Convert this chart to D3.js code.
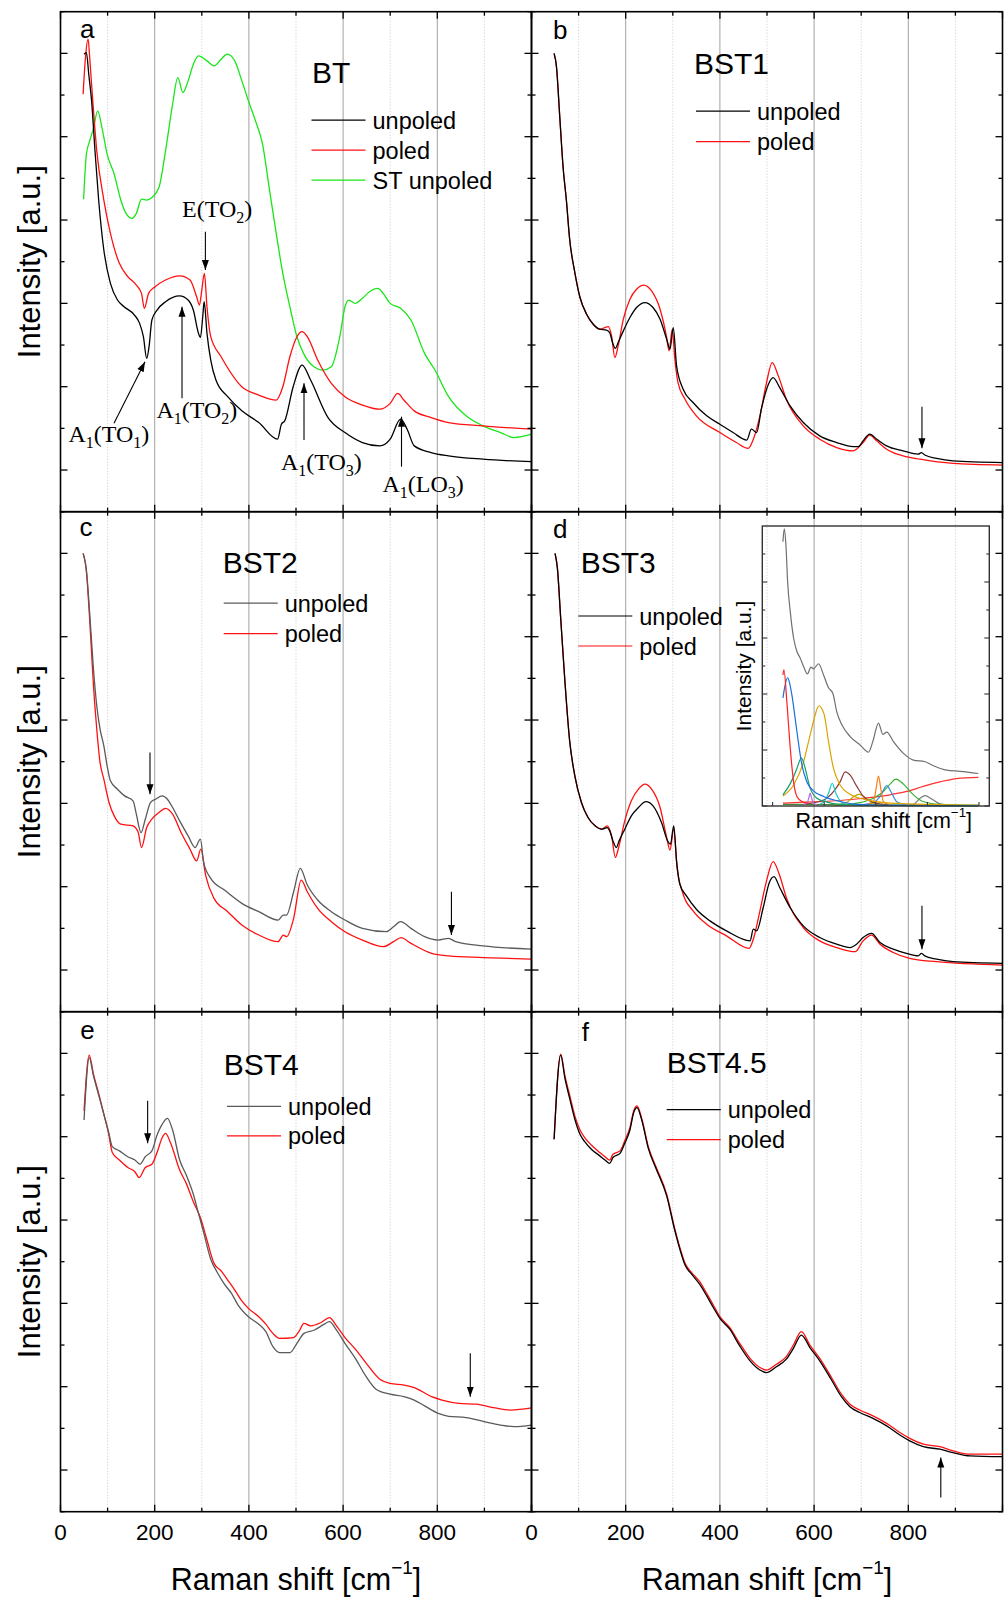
<!DOCTYPE html>
<html>
<head>
<meta charset="utf-8">
<script src="https://cdn.jsdelivr.net/npm/d3@7"></script>
<style>
  body { margin: 0; background: #fff; }
  svg text { font-family: "Liberation Sans", Arial, sans-serif; fill: #000; }
</style>
</head>
<body>
<svg id="chart" width="1005" height="1600"></svg>
<script>
// axis values
var xTickLabels = [0, 200, 400, 600, 800];
var xMajor = [200, 400, 600, 800];
var xMinor = [100, 300, 500, 700, 900];
var yMajor = [0, 1, 2, 3, 4, 5];
var yMinor = [-0.5, 0.5, 1.5, 2.5, 3.5, 4.5, 5.5];

// panel a : BT
var btUnpoled = [[50,4.99],[55,5.01],[60,4.75],[66,4.43],[73,3.85],[81,3.24],[92,2.64],[106,2.24],[121,2.04],[135,1.96],[157,1.86],[168,1.76],[176,1.60],[183,1.34],[188,1.48],[194,1.80],[205,1.92],[223,2.02],[253,2.09],[271,2.04],[282,1.92],[293,1.64],[297,1.59],[302,1.84],[305,2.02],[311,1.64],[319,1.32],[330,1.08],[355,0.88],[385,0.71],[421,0.57],[461,0.37],[469,0.55],[476,0.59],[494,1.00],[513,1.26],[531,1.08],[568,0.63],[604,0.45],[641,0.33],[678,0.29],[700,0.37],[722,0.61],[736,0.49],[751,0.29],[787,0.21],[824,0.17],[897,0.13],[1000,0.10]];
var btPoled = [[48,4.51],[53,4.95],[58.6,5.17],[62,4.95],[66,4.63],[77,3.83],[92,3.24],[106,2.84],[125,2.48],[143,2.32],[161,2.22],[172,2.12],[178,1.94],[187,2.12],[201,2.20],[223,2.28],[253,2.33],[275,2.28],[289,2.08],[295,1.98],[300,2.16],[305.5,2.36],[311,1.96],[319,1.60],[341,1.36],[385,1.00],[421,0.90],[458,0.84],[472,1.00],[487,1.36],[502,1.60],[513,1.66],[524,1.60],[546,1.32],[575,1.04],[604,0.88],[641,0.78],[678,0.73],[700,0.80],[716,0.92],[729,0.84],[751,0.71],[787,0.63],[824,0.57],[897,0.53],[1000,0.49]];
var btStUnpoled = [[49,3.25],[55,3.79],[62,3.95],[70,4.10],[79,4.31],[88,4.11],[99,3.79],[114,3.55],[128,3.24],[139,3.08],[152,3.02],[161,3.08],[172,3.25],[183,3.24],[194,3.27],[209,3.39],[223,3.83],[238,4.39],[249,4.71],[260,4.53],[271,4.67],[282,4.87],[293,4.97],[311,4.91],[326,4.85],[341,4.93],[354,4.99],[370,4.91],[385,4.67],[399,4.43],[414,4.19],[429,3.91],[443,3.39],[458,2.84],[472,2.36],[487,1.96],[502,1.60],[516,1.40],[538,1.24],[557,1.20],[575,1.24],[593,1.60],[604,1.96],[612,2.04],[626,2.00],[641,2.06],[656,2.14],[674,2.18],[685,2.12],[700,2.00],[722,1.94],[744,1.80],[773,1.40],[795,1.20],[824,0.88],[861,0.65],[897,0.53],[934,0.45],[963,0.39],[1000,0.43]];

// panel b : BST1
var bst1Unpoled = [[48,5.0],[53,4.84],[60,4.24],[67,3.64],[74,3.24],[81,2.77],[92,2.37],[103,2.07],[117,1.87],[131,1.75],[145,1.69],[159,1.68],[166,1.65],[172,1.53],[178,1.46],[184,1.53],[195,1.67],[209,1.83],[223,1.95],[241,2.01],[258,1.95],[273,1.81],[287,1.57],[294,1.45],[301,1.71],[308,1.25],[322,0.97],[343,0.81],[372,0.65],[400,0.55],[428,0.45],[457,0.36],[467,0.49],[478,0.45],[488,0.73],[503,1.03],[513,1.11],[527,0.99],[549,0.77],[577,0.57],[612,0.41],[648,0.33],[683,0.28],[694,0.28],[704,0.35],[718,0.43],[733,0.37],[754,0.29],[789,0.23],[821,0.19],[828,0.21],[835,0.18],[860,0.14],[895,0.11],[1000,0.09]];
var bst1Poled = [[48,5.0],[53,4.84],[60,4.24],[67,3.64],[74,3.24],[81,2.77],[92,2.37],[103,2.07],[117,1.87],[131,1.75],[145,1.69],[156,1.71],[163,1.72],[170,1.61],[177,1.35],[184,1.49],[195,1.81],[209,2.05],[223,2.17],[238.5,2.22],[255,2.15],[273,1.93],[287,1.59],[292,1.43],[299,1.69],[304,1.35],[311,1.05],[326,0.85],[350,0.65],[400,0.45],[435,0.33],[460,0.26],[471,0.37],[485,0.65],[499,1.05],[511,1.29],[524,1.13],[541,0.85],[577,0.53],[612,0.37],[648,0.27],[683,0.23],[704,0.33],[718,0.42],[733,0.35],[754,0.25],[789,0.17],[825,0.13],[895,0.08],[1000,0.06]];

// panel c : BST2
var bst2Unpoled = [[48,5.0],[55,4.80],[62,4.28],[70,3.61],[77,3.17],[84,2.89],[92,2.69],[99,2.45],[106,2.27],[121,2.17],[136,2.09],[154,2.03],[161,1.87],[171,1.65],[180,1.81],[191,2.01],[202,2.05],[216,2.09],[227,2.05],[238,1.95],[253,1.79],[271,1.61],[286,1.47],[297,1.57],[304,1.29],[319,1.10],[348,0.96],[385,0.80],[421,0.70],[462,0.60],[473,0.66],[480,0.66],[495,0.94],[509,1.22],[524,1.02],[546,0.84],[575,0.70],[604,0.60],[641,0.50],[692,0.46],[707,0.52],[722,0.58],[744,0.50],[773,0.40],[802,0.36],[824,0.38],[839,0.34],[897,0.29],[1000,0.25]];
var bst2Poled = [[48,5.0],[55,4.78],[62,4.20],[70,3.41],[77,2.89],[84,2.49],[92,2.29],[103,2.01],[114,1.85],[128,1.75],[154,1.73],[165,1.65],[172,1.47],[183,1.71],[194,1.81],[209,1.89],[223,1.94],[238,1.87],[256,1.65],[275,1.45],[289,1.31],[298,1.45],[308,1.14],[326,0.86],[355,0.70],[385,0.54],[421,0.42],[462,0.34],[473,0.42],[480,0.40],[495,0.62],[511,1.08],[524,0.94],[546,0.74],[575,0.58],[604,0.46],[641,0.36],[685,0.28],[707,0.34],[723,0.39],[744,0.32],[788,0.20],[824,0.17],[897,0.15],[1000,0.13]];

// panel d : BST3
var bst3Unpoled = [[50,5.0],[55,4.82],[62,4.22],[71,3.46],[81,2.75],[92,2.33],[106,2.01],[120,1.83],[135,1.73],[149,1.69],[161,1.71],[166,1.67],[173,1.55],[180,1.47],[186,1.55],[198,1.69],[212,1.85],[227,1.95],[243,2.02],[258,1.97],[276,1.77],[289,1.55],[295,1.51],[302,1.73],[308,1.31],[315,1.03],[329,0.89],[350,0.73],[379,0.59],[414,0.47],[464,0.35],[471,0.49],[478,0.47],[492,0.75],[505,1.05],[515,1.12],[527,0.99],[549,0.75],[577,0.53],[612,0.39],[648,0.31],[676,0.27],[690,0.31],[704,0.39],[722,0.44],[740,0.33],[768,0.25],[796,0.20],[821,0.17],[828,0.20],[835,0.17],[860,0.13],[895,0.10],[1000,0.08]];
var bst3Poled = [[50,5.0],[55,4.82],[62,4.22],[71,3.46],[81,2.75],[92,2.33],[106,2.01],[120,1.83],[135,1.73],[149,1.69],[161,1.73],[170,1.61],[178,1.35],[185,1.47],[198,1.79],[212,2.03],[227,2.17],[241,2.23],[255,2.17],[273,1.95],[287,1.59],[294,1.44],[302,1.69],[309,1.23],[322,0.91],[343,0.71],[372,0.55],[414,0.41],[462,0.26],[471,0.37],[485,0.71],[499,1.07],[513,1.30],[526,1.15],[541,0.87],[577,0.51],[612,0.35],[648,0.27],[687,0.22],[704,0.35],[722,0.42],[740,0.31],[768,0.21],[803,0.14],[860,0.10],[1000,0.06]];

// panel d inset : peak fit of BST3
var insetSum = [[50,4.72],[56.5,4.95],[64.5,4.66],[72.6,4.01],[85.5,3.47],[101.6,3.0],[117.7,2.76],[133.9,2.64],[150,2.49],[169,2.36],[185.5,2.48],[198,2.45],[222.6,2.54],[246.8,2.34],[271,2.11],[292,2.01],[311,1.68],[335.5,1.45],[375.8,1.24],[424,1.09],[464.5,0.96],[485.5,1.15],[513,1.48],[534,1.28],[553,1.32],[585.5,1.15],[634,0.94],[682,0.82],[738.7,0.79],[779,0.72],[843.5,0.64],[908,0.62],[997,0.58]];
var insetRayleigh = [[50,2.34],[54.8,2.43],[69,1.86],[85.5,1.03],[101.6,0.43],[117.7,0.17],[142,0.08],[170,0.05]];
var insetBackground = [[50,0.05],[150,0.07],[247,0.08],[408,0.125],[569,0.2],[650,0.26],[730,0.35],[811,0.43],[892,0.49],[997,0.51]];
var insetBaseline = [[50,0.03],[500,0.02],[997,0.01]];
var insetPeak1 = [[50,1.93],[60,2.15],[72.6,2.29],[82,2.2],[93.5,1.98],[117.7,1.33],[142,0.73],[166,0.43],[198,0.27],[247,0.17],[327,0.08],[408,0.03],[600,0.01],[997,0.0]];
var insetPeak2 = [[50,0.2],[85.5,0.40],[117.7,0.67],[130,0.8],[138.7,0.86],[148,0.8],[158,0.67],[182,0.32],[214.5,0.14],[263,0.07],[327,0.03],[500,0.01],[997,0]];
var insetPeak3 = [[50,0.18],[101.6,0.375],[150,0.79],[182,1.27],[206.5,1.63],[218,1.76],[227.4,1.79],[238,1.74],[250,1.63],[271,1.15],[295,0.67],[327,0.375],[375.8,0.21],[456,0.11],[569,0.05],[997,0.01]];
var insetPeak4 = [[150,0.02],[168,0.06],[177,0.17],[182,0.23],[187,0.17],[196,0.06],[215,0.02]];
var insetPeak5 = [[230,0.03],[254.8,0.107],[271,0.226],[288.7,0.405],[306.5,0.226],[327,0.09],[360,0.02]];
var insetPeak6 = [[150,0.03],[246.8,0.107],[295,0.256],[327,0.43],[351.6,0.61],[375.8,0.55],[408,0.35],[440,0.17],[488.7,0.065],[560,0.02]];
var insetPeak7 = [[300,0.02],[359.7,0.065],[392,0.167],[421,0.208],[448.4,0.149],[488.7,0.048],[540,0.01]];
var insetPeak8 = [[450,0.01],[488.7,0.077],[501.6,0.315],[513,0.536],[524,0.315],[537,0.077],[570,0.01]];
var insetPeak9 = [[420,0.015],[488.7,0.065],[521,0.167],[553,0.363],[577.4,0.226],[601.6,0.077],[650,0.02]];
var insetPeak10 = [[300,0.01],[408,0.05],[488.7,0.14],[537,0.26],[569,0.39],[598,0.48],[634,0.39],[674,0.23],[722.6,0.09],[811,0.03],[997,0.01]];
var insetPeak11 = [[640,0.01],[682,0.03],[714.5,0.137],[738.7,0.185],[771,0.125],[811,0.04],[870,0.01]];
var insetXTicks = [0, 250, 500, 750, 1000];

// panel e : BST4
var bst4Unpoled = [[50,4.20],[61,4.95],[70,4.73],[81,4.50],[92,4.27],[102,4.06],[110,3.88],[125,3.83],[143,3.76],[158,3.72],[169,3.67],[180,3.76],[194,3.83],[205,4.02],[216,4.15],[227,4.22],[238,4.08],[253,3.72],[267,3.54],[282,3.31],[293,3.08],[304,2.85],[319,2.53],[333,2.37],[348,2.23],[363,2.12],[377,1.98],[399,1.84],[421,1.75],[436,1.66],[451,1.48],[465,1.41],[487,1.41],[502,1.52],[517,1.64],[539,1.68],[560,1.75],[571,1.78],[586,1.68],[604,1.52],[626,1.34],[648,1.13],[670,0.97],[700,0.91],[729,0.88],[751,0.84],[773,0.77],[802,0.68],[824,0.645],[861,0.63],[897,0.585],[934,0.54],[963,0.52],[1000,0.54]];
var bst4Poled = [[50,4.31],[61,4.98],[70,4.75],[81,4.52],[92,4.27],[102,4.04],[110,3.81],[125,3.72],[143,3.63],[158,3.58],[167,3.51],[180,3.63],[194,3.67],[205,3.81],[216,3.99],[223,4.04],[234,3.92],[253,3.60],[267,3.44],[282,3.22],[297,3.03],[311,2.76],[326,2.48],[341,2.39],[355,2.28],[370,2.16],[385,2.03],[399,1.94],[421,1.84],[436,1.75],[451,1.64],[465,1.58],[495,1.59],[506,1.66],[517,1.76],[531,1.73],[553,1.77],[571,1.83],[586,1.73],[604,1.59],[626,1.45],[648,1.29],[678,1.09],[700,1.04],[729,1.02],[751,0.99],[788,0.88],[810,0.84],[846,0.80],[883,0.79],[919,0.75],[956,0.72],[1000,0.745]];

// panel f : BST4.5
var bst45Unpoled = [[48,3.97],[62,4.98],[71,4.70],[81,4.46],[92,4.21],[103,4.03],[113,3.94],[127,3.85],[145,3.77],[156,3.72],[166,3.68],[173,3.75],[188,3.80],[198,3.92],[209,4.08],[217,4.29],[224,4.35],[234,4.20],[248,3.86],[265,3.61],[287,3.29],[304,2.88],[315,2.65],[326,2.46],[340,2.35],[357,2.23],[372,2.09],[386,1.95],[400,1.82],[421,1.69],[442,1.49],[464,1.31],[485,1.20],[499,1.17],[520,1.24],[541,1.33],[556,1.46],[573,1.62],[591,1.47],[612,1.31],[637,1.08],[658,0.88],[676,0.76],[697,0.69],[725,0.62],[754,0.53],[782,0.42],[803,0.35],[832,0.28],[867,0.25],[895,0.21],[931,0.17],[1000,0.16]];
var bst45Poled = [[48,3.97],[62,4.99],[71,4.73],[81,4.50],[92,4.25],[103,4.08],[113,3.99],[127,3.90],[145,3.81],[156,3.76],[166,3.72],[173,3.79],[188,3.83],[198,3.95],[209,4.11],[217,4.31],[224,4.37],[234,4.22],[248,3.88],[265,3.63],[287,3.31],[304,2.90],[315,2.67],[326,2.48],[340,2.37],[357,2.26],[372,2.12],[386,1.98],[400,1.84],[421,1.71],[442,1.52],[464,1.34],[485,1.23],[499,1.20],[520,1.27],[541,1.36],[556,1.50],[573,1.66],[591,1.50],[612,1.34],[637,1.11],[658,0.91],[676,0.79],[697,0.72],[725,0.65],[754,0.56],[782,0.45],[803,0.38],[832,0.31],[867,0.28],[895,0.23],[931,0.19],[1000,0.19]];

// peak assignments in panel a (label start, arrow tail -> head)
var btModeLabels = [
  { text: 'A_1(TO_1)', x: 16.8, y: 0.336 },
  { text: 'A_1(TO_2)', x: 203.6, y: 0.62 },
  { text: 'E(TO_2)', x: 258, y: 3.04 },
  { text: 'A_1(TO_3)', x: 468, y: 0.0 },
  { text: 'A_1(LO_3)', x: 683.6, y: -0.26 }
];
var btArrows = [[113.6,0.56,179.4,1.30],[258,0.86,258,1.96],[307.6,2.86,307.6,2.40],[517,0.36,517,1.04],[724,0.04,724,0.64]];
var bst1Arrows = [[829,0.76,829,0.26]];
var bst2Arrows = [[190,2.61,190,2.11],[830,0.94,830,0.42]];
var bst3Arrows = [[829,0.77,829,0.25]];
var bst4Arrows = [[185,4.43,185,3.92],[870,1.40,870,0.88]];
var bst45Arrows = [[869,-0.33,869,0.15]];

var RED = '#ff1010', BLACK = '#000', GRAY = '#5a5a5a', GREEN = '#19e619';

var panels = [
  { letter: 'a', name: 'BT', col: 0, row: 0, nameX: 251.5, nameY: 71, letterX: 19.5, letterY: 26.5,
    legX: 251, legY: 108.5, legGap: 30,
    series: [{ data: btUnpoled, color: BLACK, label: 'unpoled' }, { data: btPoled, color: RED, label: 'poled' }, { data: btStUnpoled, color: GREEN, label: 'ST unpoled' }],
    arrows: btArrows, modes: btModeLabels },
  { letter: 'b', name: 'BST1', col: 1, row: 0, nameX: 162.5, nameY: 62, letterX: 21.5, letterY: 27,
    legX: 164.5, legY: 99.5, legGap: 30.5,
    series: [{ data: bst1Unpoled, color: BLACK, label: 'unpoled' }, { data: bst1Poled, color: RED, label: 'poled' }],
    arrows: bst1Arrows },
  { letter: 'c', name: 'BST2', col: 0, row: 1, nameX: 162.2, nameY: 61, letterX: 19, letterY: 24.5,
    legX: 163.2, legY: 91.5, legGap: 30.5,
    series: [{ data: bst2Unpoled, color: GRAY, label: 'unpoled' }, { data: bst2Poled, color: RED, label: 'poled' }],
    arrows: bst2Arrows },
  { letter: 'd', name: 'BST3', col: 1, row: 1, nameX: 49.2, nameY: 61.3, letterX: 21.5, letterY: 26.3,
    legX: 46.8, legY: 104.3, legGap: 30,
    series: [{ data: bst3Unpoled, color: BLACK, label: 'unpoled' }, { data: bst3Poled, color: RED, label: 'poled' }],
    arrows: bst3Arrows, inset: true },
  { letter: 'e', name: 'BST4', col: 0, row: 2, nameX: 163.2, nameY: 63, letterX: 19.7, letterY: 27.5,
    legX: 166.5, legY: 94.6, legGap: 29.5,
    series: [{ data: bst4Unpoled, color: GRAY, label: 'unpoled' }, { data: bst4Poled, color: RED, label: 'poled' }],
    arrows: bst4Arrows, xLabels: true },
  { letter: 'f', name: 'BST4.5', col: 1, row: 2, nameX: 135.2, nameY: 61, letterX: 50.2, letterY: 29,
    legX: 135.2, legY: 98, legGap: 30,
    series: [{ data: bst45Unpoled, color: BLACK, label: 'unpoled' }, { data: bst45Poled, color: RED, label: 'poled' }],
    arrows: bst45Arrows, xLabels: true }
];

var insetSeries = [
  { data: insetBaseline, color: '#3c8c3c' },
  { data: insetBackground, color: '#ff3030' },
  { data: insetPeak11, color: '#7a7a7a' },
  { data: insetPeak10, color: '#33b233' },
  { data: insetPeak9, color: '#3b8ee0' },
  { data: insetPeak8, color: '#ff7a10' },
  { data: insetPeak7, color: '#b3a400' },
  { data: insetPeak6, color: '#8b3a3a' },
  { data: insetPeak5, color: '#14c8d2' },
  { data: insetPeak4, color: '#b36ae2' },
  { data: insetPeak3, color: '#dca200' },
  { data: insetPeak2, color: '#16a06a' },
  { data: insetPeak1, color: '#1a6ee0' },
  { data: insetRayleigh, color: '#ff2020' },
  { data: insetSum, color: '#707070' }
];

var svg = d3.select('#chart');
var panelW = 471, panelH = 500, originX = 60.5, originY = 11.7;

svg.append('defs').append('marker')
  .attr('id', 'head').attr('viewBox', '0 0 10 10').attr('refX', 10).attr('refY', 5)
  .attr('markerWidth', 10).attr('markerHeight', 10).attr('markerUnits', 'userSpaceOnUse')
  .attr('orient', 'auto')
  .append('path').attr('d', 'M0,1.5 L10,5 L0,8.5 Z').attr('fill', '#000');

// writes "A_1(TO_1)" with subscripts
function richText(sel, str, size, subSize) {
  var parts = str.split(/(_.)/).filter(function (s) { return s.length; });
  var down = false;
  parts.forEach(function (p) {
    var t = sel.append('tspan');
    if (p[0] === '_') {
      t.text(p[1]).attr('font-size', subSize).attr('dy', 6);
      down = true;
    } else {
      t.text(p).attr('font-size', size);
      if (down) { t.attr('dy', -6); down = false; }
    }
  });
}

function ramanTitle(g, x, y, size) {
  var t = g.append('text').attr('x', x).attr('y', y).attr('text-anchor', 'middle').attr('font-size', size);
  t.append('tspan').text('Raman shift [cm');
  t.append('tspan').text('\u22121').attr('font-size', size * 0.62).attr('dy', -size * 0.5);
  t.append('tspan').text(']').attr('dy', size * 0.5);
}

panels.forEach(function (p, i) {
  var left = originX + p.col * panelW;
  var top = originY + p.row * panelH;
  var x = d3.scaleLinear().domain([0, 1000]).range([left, left + panelW]);
  var y = d3.scaleLinear().domain([-0.5, 5.5]).range([top + panelH, top]);
  var g = svg.append('g');

  // grid
  g.selectAll('.gmin').data(xMinor).join('line')
    .attr('x1', x).attr('x2', x).attr('y1', top).attr('y2', top + panelH)
    .attr('stroke', '#c8c8c8').attr('stroke-width', 0.8).attr('stroke-dasharray', '1.2,1.8');
  g.selectAll('.gmaj').data(xMajor).join('line')
    .attr('x1', x).attr('x2', x).attr('y1', top).attr('y2', top + panelH)
    .attr('stroke', '#a2a2a2').attr('stroke-width', 1);

  // spectra
  var clipId = 'clip' + i;
  svg.append('clipPath').attr('id', clipId).append('rect')
    .attr('x', left).attr('y', top).attr('width', panelW).attr('height', panelH);
  var line = d3.line().x(function (d) { return x(d[0]); }).y(function (d) { return y(d[1]); }).curve(d3.curveMonotoneX);
  g.append('g').attr('clip-path', 'url(#' + clipId + ')')
    .selectAll('path').data(p.series.slice().reverse()).join('path')
    .attr('d', function (s) { return line(s.data); })
    .attr('fill', 'none').attr('stroke', function (s) { return s.color; }).attr('stroke-width', 1.3);

  // ticks, inward on all four sides
  var tickSets = [
    { vals: yMajor, len: 7 }, { vals: yMinor, len: 4 }
  ];
  tickSets.forEach(function (t) {
    g.selectAll(null).data(t.vals).join('line')
      .attr('x1', left).attr('x2', left + t.len).attr('y1', y).attr('y2', y)
      .attr('stroke', '#000').attr('stroke-width', 1.3);
    g.selectAll(null).data(t.vals).join('line')
      .attr('x1', left + panelW).attr('x2', left + panelW - t.len).attr('y1', y).attr('y2', y)
      .attr('stroke', '#000').attr('stroke-width', 1.3);
  });
  [{ vals: [0].concat(xMajor, [1000]), len: 7 }, { vals: xMinor, len: 4 }].forEach(function (t) {
    g.selectAll(null).data(t.vals).join('line')
      .attr('x1', x).attr('x2', x).attr('y1', top + panelH).attr('y2', top + panelH - t.len)
      .attr('stroke', '#000').attr('stroke-width', 1.3);
    g.selectAll(null).data(t.vals).join('line')
      .attr('x1', x).attr('x2', x).attr('y1', top).attr('y2', top + t.len)
      .attr('stroke', '#000').attr('stroke-width', 1.3);
  });

  // frame
  g.append('rect').attr('x', left).attr('y', top).attr('width', panelW).attr('height', panelH)
    .attr('fill', 'none').attr('stroke', '#000').attr('stroke-width', 1.6);

  // arrows
  g.selectAll('.arrow').data(p.arrows).join('line')
    .attr('x1', function (d) { return x(d[0]); }).attr('y1', function (d) { return y(d[1]); })
    .attr('x2', function (d) { return x(d[2]); }).attr('y2', function (d) { return y(d[3]); })
    .attr('stroke', '#000').attr('stroke-width', 1.1).attr('marker-end', 'url(#head)');

  // mode labels
  (p.modes || []).forEach(function (m) {
    var t = g.append('text').attr('x', x(m.x)).attr('y', y(m.y))
      .style('font-family', '"Liberation Serif", "Times New Roman", serif');
    richText(t, m.text, 24, 16);
  });

  // panel letter, sample name, legend
  g.append('text').attr('x', left + p.letterX).attr('y', top + p.letterY).attr('font-size', 26).text(p.letter);
  g.append('text').attr('x', left + p.nameX).attr('y', top + p.nameY).attr('font-size', 30).text(p.name);
  p.series.forEach(function (s, k) {
    var ly = top + p.legY + k * p.legGap;
    g.append('line').attr('x1', left + p.legX).attr('x2', left + p.legX + 54)
      .attr('y1', ly).attr('y2', ly).attr('stroke', s.color).attr('stroke-width', 1.2);
    g.append('text').attr('x', left + p.legX + 61).attr('y', ly + 8.5).attr('font-size', 23.5).text(s.label);
  });

  // axis labels
  if (p.col === 0) {
    g.append('text').attr('transform', 'translate(40,' + (top + panelH / 2) + ') rotate(-90)')
      .attr('text-anchor', 'middle').attr('font-size', 31).text('Intensity [a.u.]');
  }
  if (p.xLabels) {
    g.selectAll('.xl').data(xTickLabels).join('text')
      .attr('x', x).attr('y', top + panelH + 28).attr('text-anchor', 'middle').attr('font-size', 22.5)
      .text(function (d) { return d; });
    ramanTitle(g, left + panelW / 2, top + panelH + 78, 30.5);
  }

  // inset with the peak fit
  if (p.inset) {
    var ix = d3.scaleLinear().domain([-50, 1050]).range([left + 230.8, left + 457.8]);
    var iy = d3.scaleLinear().domain([0, 5]).range([top + 294.3, top + 14.3]);
    var ig = g.append('g');
    var iline = d3.line().x(function (d) { return ix(d[0]); }).y(function (d) { return iy(d[1]); }).curve(d3.curveMonotoneX);
    ig.selectAll('path').data(insetSeries).join('path')
      .attr('d', function (s) { return iline(s.data); })
      .attr('fill', 'none').attr('stroke', function (s) { return s.color; }).attr('stroke-width', 1.2);
    [{ vals: [0, 1, 2, 3, 4], len: 5 }, { vals: [0.5, 1.5, 2.5, 3.5, 4.5], len: 3 }].forEach(function (t) {
      ig.selectAll(null).data(t.vals).join('line')
        .attr('x1', ix(-50)).attr('x2', ix(-50) + t.len).attr('y1', iy).attr('y2', iy)
        .attr('stroke', '#333').attr('stroke-width', 1.1);
      ig.selectAll(null).data(t.vals).join('line')
        .attr('x1', ix(1050)).attr('x2', ix(1050) - t.len).attr('y1', iy).attr('y2', iy)
        .attr('stroke', '#333').attr('stroke-width', 1.1);
    });
    ig.selectAll(null).data(insetXTicks).join('line')
      .attr('x1', ix).attr('x2', ix).attr('y1', iy(0)).attr('y2', iy(0) - 4)
      .attr('stroke', '#333').attr('stroke-width', 1.1);
    ig.append('rect').attr('x', ix(-50)).attr('y', iy(5)).attr('width', ix(1050) - ix(-50)).attr('height', iy(0) - iy(5))
      .attr('fill', 'none').attr('stroke', '#333').attr('stroke-width', 1.4);
    ig.append('text').attr('transform', 'translate(' + (ix(-50) - 11.5) + ',' + (iy(2.5)) + ') rotate(-90)')
      .attr('text-anchor', 'middle').attr('font-size', 21).text('Intensity [a.u.]');
    ramanTitle(ig, (ix(-50) + ix(1050)) / 2 + 8, iy(0) + 22, 21.5);
  }
});
</script>
</body>
</html>
